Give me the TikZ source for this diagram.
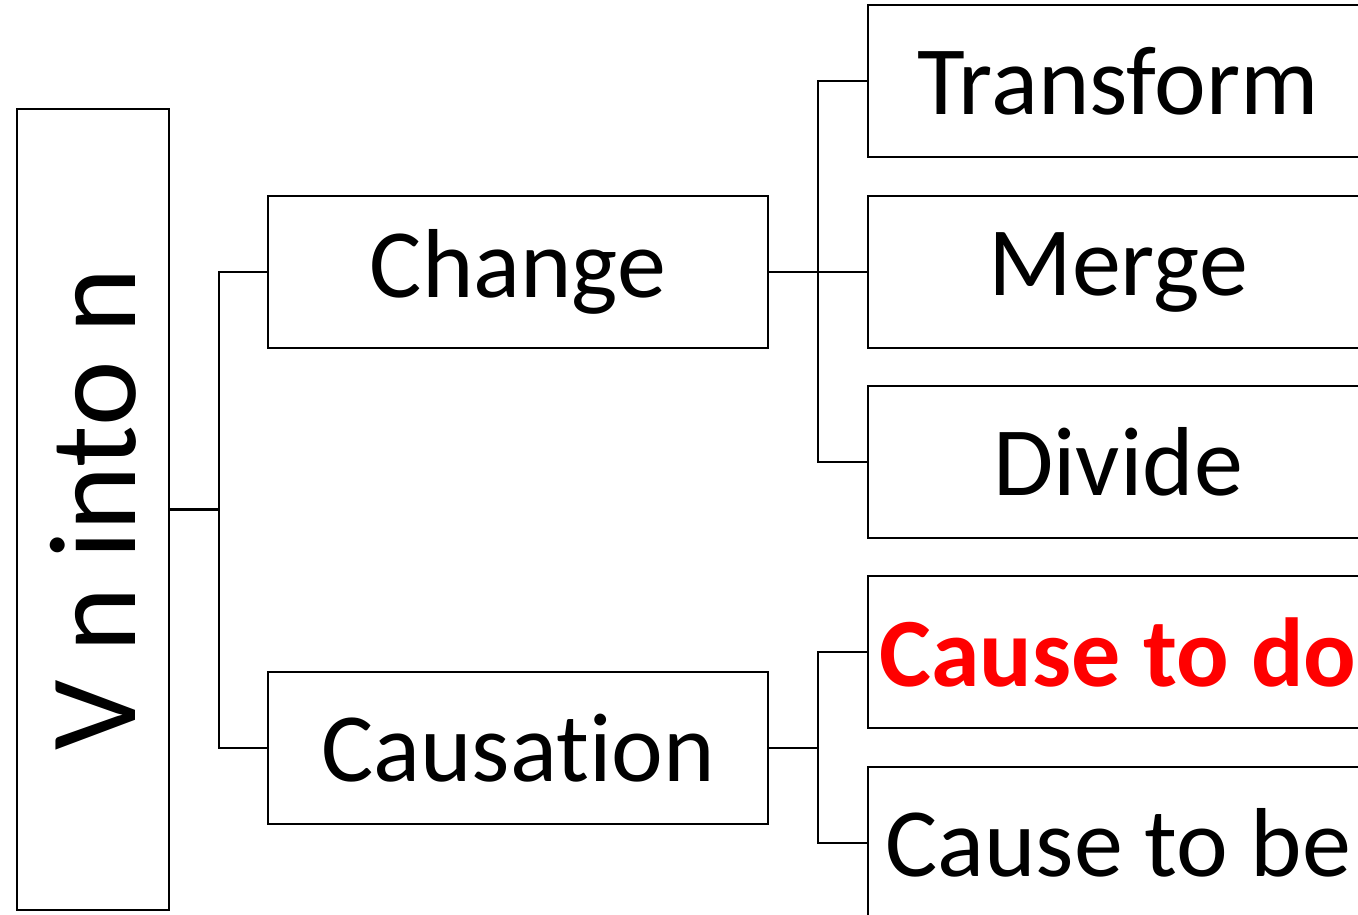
\documentclass[tikz,border=0pt]{standalone}
\usepackage{fontspec}
\setmainfont[Ligatures={NoCommon}]{Carlito}
\definecolor{brightred}{RGB}{255,0,0}
\begin{document}
\begin{tikzpicture}[x=1pt,y=-1pt,
  box/.style={draw,line width=2.8pt,inner sep=0pt,minimum width=500pt,minimum height=152pt,font=\fontsize{98}{100}\selectfont},
  rootbox/.style={draw,line width=2.8pt,inner sep=0pt,minimum width=801pt,minimum height=152pt,rotate=90,font=\fontsize{124}{130}\selectfont},
  conn/.style={line width=2.8pt}]
\useasboundingbox (0,0) rectangle (1358,915);
\clip (0,0) rectangle (1358,915);
\node[rootbox] (root) at (93,509.5) {V n into n};
\node[box] (change) at (518,272) {Change};
\node[box] (causation) at (518,748) {Causation};
\node[box] (transform) at (1118,81) {Transform};
\node[box] (merge) at (1118,272) {Merge};
\node[box] (divide) at (1118,462) {Divide};
\node[box,text=brightred,font=\fontsize{98}{100}\selectfont\bfseries] (causedo) at (1118,652) {Cause to do};
\node[box] (causebe) at (1118,843) {Cause to be};
\coordinate (j0) at (219,509.5);
\coordinate (j1) at (818,272);
\coordinate (j2) at (818,748);
\draw[conn] (root.south) -- (j0);
\draw[conn] (j0) |- (change.west);
\draw[conn] (j0) |- (causation.west);
\draw[conn] (change.east) -- (j1);
\draw[conn] (j1) |- (transform.west);
\draw[conn] (j1) -- (merge.west);
\draw[conn] (j1) |- (divide.west);
\draw[conn] (causation.east) -- (j2);
\draw[conn] (j2) |- (causedo.west);
\draw[conn] (j2) |- (causebe.west);
\end{tikzpicture}
\end{document}
